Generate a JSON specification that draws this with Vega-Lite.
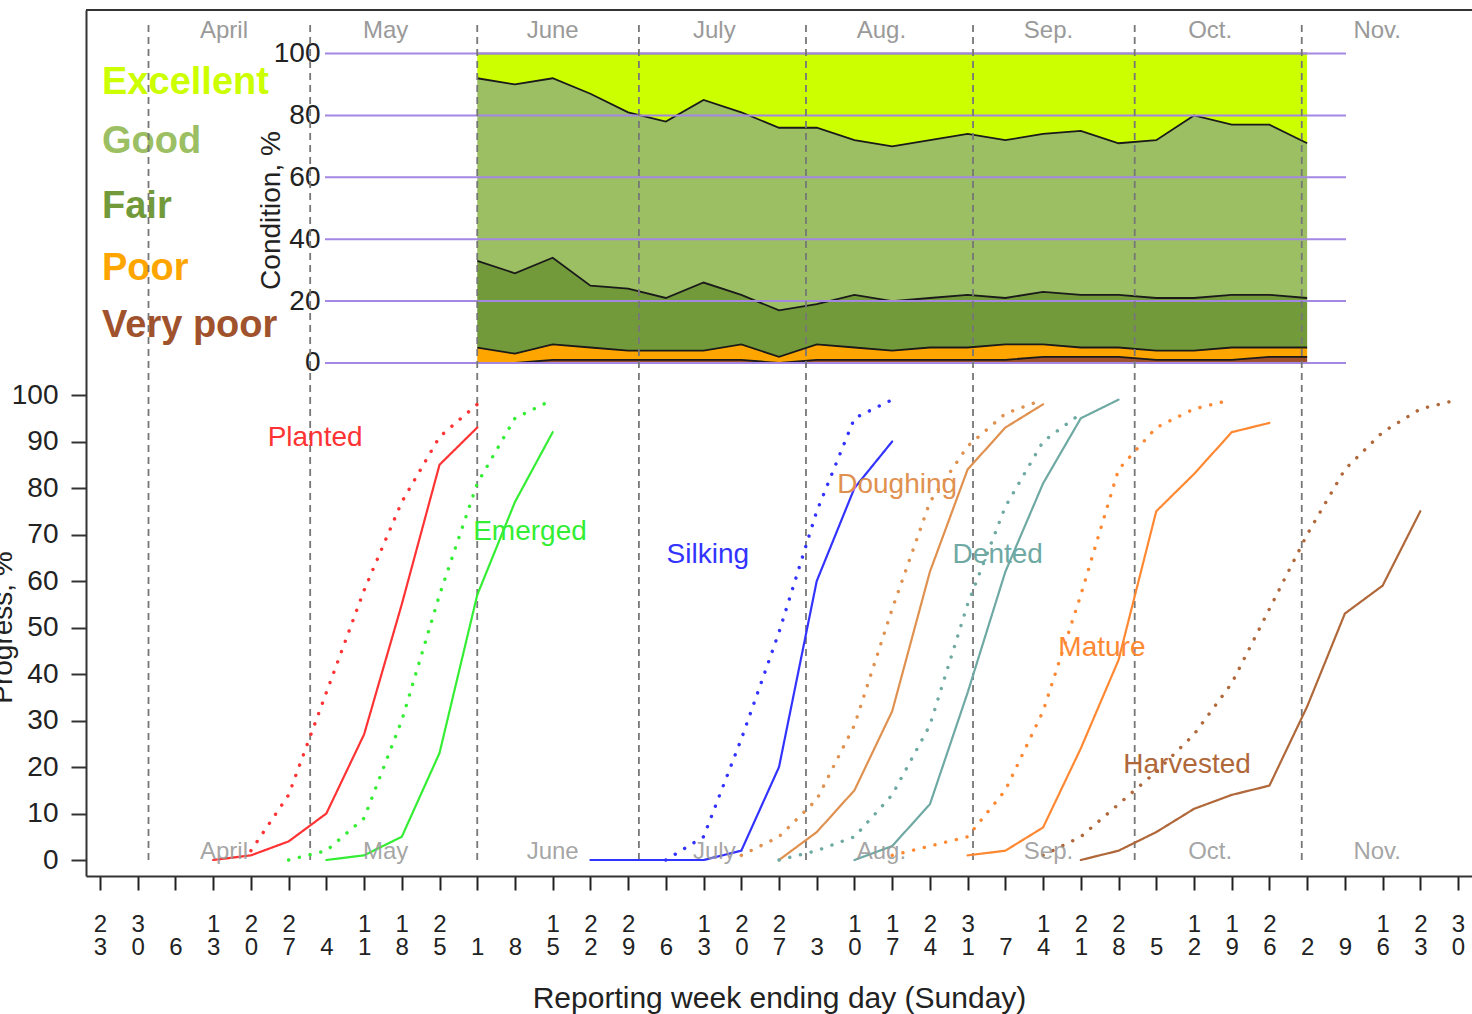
{
  "$schema": "https://vega.github.io/schema/vega-lite/v6.json",
  "width": 1386,
  "height": 866,
  "autosize": {"type": "none"},
  "padding": {"left": 86, "top": 10, "right": 0, "bottom": 138},
  "background": "white",
  "config": {
    "view": {"stroke": null},
    "font": "Liberation Sans",
    "axis": {"labelFont": "Liberation Sans", "titleFont": "Liberation Sans", "grid": false},
    "text": {"font": "Liberation Sans"}
  },
  "datasets": {
    "cond": [
      {"d": "2014-06-01", "VP": 0, "P": 5, "F": 28, "G": 59, "E": 8},
      {"d": "2014-06-08", "VP": 0, "P": 3, "F": 26, "G": 61, "E": 10},
      {"d": "2014-06-15", "VP": 1, "P": 5, "F": 28, "G": 58, "E": 8},
      {"d": "2014-06-22", "VP": 1, "P": 4, "F": 20, "G": 62, "E": 13},
      {"d": "2014-06-29", "VP": 1, "P": 3, "F": 20, "G": 57, "E": 19},
      {"d": "2014-07-06", "VP": 1, "P": 3, "F": 17, "G": 57, "E": 22},
      {"d": "2014-07-13", "VP": 1, "P": 3, "F": 22, "G": 59, "E": 15},
      {"d": "2014-07-20", "VP": 1, "P": 5, "F": 16, "G": 59, "E": 19},
      {"d": "2014-07-27", "VP": 0, "P": 2, "F": 15, "G": 59, "E": 24},
      {"d": "2014-08-03", "VP": 1, "P": 5, "F": 13, "G": 57, "E": 24},
      {"d": "2014-08-10", "VP": 1, "P": 4, "F": 17, "G": 50, "E": 28},
      {"d": "2014-08-17", "VP": 1, "P": 3, "F": 16, "G": 50, "E": 30},
      {"d": "2014-08-24", "VP": 1, "P": 4, "F": 16, "G": 51, "E": 28},
      {"d": "2014-08-31", "VP": 1, "P": 4, "F": 17, "G": 52, "E": 26},
      {"d": "2014-09-07", "VP": 1, "P": 5, "F": 15, "G": 51, "E": 28},
      {"d": "2014-09-14", "VP": 2, "P": 4, "F": 17, "G": 51, "E": 26},
      {"d": "2014-09-21", "VP": 2, "P": 3, "F": 17, "G": 53, "E": 25},
      {"d": "2014-09-28", "VP": 2, "P": 3, "F": 17, "G": 49, "E": 29},
      {"d": "2014-10-05", "VP": 1, "P": 3, "F": 17, "G": 51, "E": 28},
      {"d": "2014-10-12", "VP": 1, "P": 3, "F": 17, "G": 59, "E": 20},
      {"d": "2014-10-19", "VP": 1, "P": 4, "F": 17, "G": 55, "E": 23},
      {"d": "2014-10-26", "VP": 2, "P": 3, "F": 17, "G": 55, "E": 23},
      {"d": "2014-11-02", "VP": 2, "P": 3, "F": 16, "G": 50, "E": 29}
    ],
    "grid": [
      {"d": "2014-05-03T18:00:00Z", "d2": "2014-11-09T05:00:00Z", "v": 0},
      {"d": "2014-05-03T18:00:00Z", "d2": "2014-11-09T05:00:00Z", "v": 20},
      {"d": "2014-05-03T18:00:00Z", "d2": "2014-11-09T05:00:00Z", "v": 40},
      {"d": "2014-05-03T18:00:00Z", "d2": "2014-11-09T05:00:00Z", "v": 60},
      {"d": "2014-05-03T18:00:00Z", "d2": "2014-11-09T05:00:00Z", "v": 80},
      {"d": "2014-05-03T18:00:00Z", "d2": "2014-11-09T05:00:00Z", "v": 100}
    ],
    "leg": [
      {"d": "2014-03-23T09:00:00Z", "key": "E", "label": "Excellent", "v": 86.9},
      {"d": "2014-03-23T09:00:00Z", "key": "G", "label": "Good", "v": 67.9},
      {"d": "2014-03-23T09:00:00Z", "key": "F", "label": "Fair", "v": 46.8},
      {"d": "2014-03-23T09:00:00Z", "key": "P", "label": "Poor", "v": 26.8},
      {"d": "2014-03-23T09:00:00Z", "key": "VP", "label": "Very poor", "v": 8.4}
    ],
    "months": [
      {"d": "2014-04-01"}, {"d": "2014-05-01"}, {"d": "2014-06-01"}, {"d": "2014-07-01"},
      {"d": "2014-08-01"}, {"d": "2014-09-01"}, {"d": "2014-10-01"}, {"d": "2014-11-01"}
    ],
    "mlab": [
      {"d": "2014-04-15", "m": "April"}, {"d": "2014-05-15", "m": "May"}, {"d": "2014-06-15", "m": "June"},
      {"d": "2014-07-15", "m": "July"}, {"d": "2014-08-15", "m": "Aug."}, {"d": "2014-09-15", "m": "Sep."},
      {"d": "2014-10-15", "m": "Oct."}, {"d": "2014-11-15", "m": "Nov."}
    ],
    "frame": [{"d": "2014-03-20T09:38:00Z", "d2": "2014-12-02T14:10:00Z"}],
    "plab": [
      {"d": "2014-05-01T22:00:00Z", "s": "Planted", "v": 90.8},
      {"d": "2014-06-10T19:00:00Z", "s": "Emerged", "v": 70.5},
      {"d": "2014-07-13T19:00:00Z", "s": "Silking", "v": 65.6},
      {"d": "2014-08-17T22:00:00Z", "s": "Doughing", "v": 80.6},
      {"d": "2014-09-05T14:00:00Z", "s": "Dented", "v": 65.6},
      {"d": "2014-09-24T22:00:00Z", "s": "Mature", "v": 45.6},
      {"d": "2014-10-10T17:00:00Z", "s": "Harvested", "v": 20.4}
    ],
    "prog": [
      {"d": "2014-04-13", "s": "Planted", "t": "cur", "v": 0},
      {"d": "2014-04-20", "s": "Planted", "t": "cur", "v": 1},
      {"d": "2014-04-27", "s": "Planted", "t": "cur", "v": 4},
      {"d": "2014-05-04", "s": "Planted", "t": "cur", "v": 10},
      {"d": "2014-05-11", "s": "Planted", "t": "cur", "v": 27},
      {"d": "2014-05-18", "s": "Planted", "t": "cur", "v": 55},
      {"d": "2014-05-25", "s": "Planted", "t": "cur", "v": 85},
      {"d": "2014-06-01", "s": "Planted", "t": "cur", "v": 93},
      {"d": "2014-04-20", "s": "Planted", "t": "avg", "v": 2},
      {"d": "2014-04-27", "s": "Planted", "t": "avg", "v": 14},
      {"d": "2014-05-04", "s": "Planted", "t": "avg", "v": 36},
      {"d": "2014-05-11", "s": "Planted", "t": "avg", "v": 58},
      {"d": "2014-05-18", "s": "Planted", "t": "avg", "v": 77},
      {"d": "2014-05-25", "s": "Planted", "t": "avg", "v": 91},
      {"d": "2014-06-01", "s": "Planted", "t": "avg", "v": 98},
      {"d": "2014-05-04", "s": "Emerged", "t": "cur", "v": 0},
      {"d": "2014-05-11", "s": "Emerged", "t": "cur", "v": 1},
      {"d": "2014-05-18", "s": "Emerged", "t": "cur", "v": 5},
      {"d": "2014-05-25", "s": "Emerged", "t": "cur", "v": 23},
      {"d": "2014-06-01", "s": "Emerged", "t": "cur", "v": 57},
      {"d": "2014-06-08", "s": "Emerged", "t": "cur", "v": 77},
      {"d": "2014-06-15", "s": "Emerged", "t": "cur", "v": 92},
      {"d": "2014-04-27", "s": "Emerged", "t": "avg", "v": 0},
      {"d": "2014-05-04", "s": "Emerged", "t": "avg", "v": 2},
      {"d": "2014-05-11", "s": "Emerged", "t": "avg", "v": 9},
      {"d": "2014-05-18", "s": "Emerged", "t": "avg", "v": 30},
      {"d": "2014-05-25", "s": "Emerged", "t": "avg", "v": 57},
      {"d": "2014-06-01", "s": "Emerged", "t": "avg", "v": 81},
      {"d": "2014-06-08", "s": "Emerged", "t": "avg", "v": 95},
      {"d": "2014-06-15", "s": "Emerged", "t": "avg", "v": 99},
      {"d": "2014-06-22", "s": "Silking", "t": "cur", "v": 0},
      {"d": "2014-06-29", "s": "Silking", "t": "cur", "v": 0},
      {"d": "2014-07-06", "s": "Silking", "t": "cur", "v": 0},
      {"d": "2014-07-13", "s": "Silking", "t": "cur", "v": 0},
      {"d": "2014-07-20", "s": "Silking", "t": "cur", "v": 2},
      {"d": "2014-07-27", "s": "Silking", "t": "cur", "v": 20},
      {"d": "2014-08-03", "s": "Silking", "t": "cur", "v": 60},
      {"d": "2014-08-10", "s": "Silking", "t": "cur", "v": 80},
      {"d": "2014-08-17", "s": "Silking", "t": "cur", "v": 90},
      {"d": "2014-07-06", "s": "Silking", "t": "avg", "v": 0},
      {"d": "2014-07-13", "s": "Silking", "t": "avg", "v": 5},
      {"d": "2014-07-20", "s": "Silking", "t": "avg", "v": 26},
      {"d": "2014-07-27", "s": "Silking", "t": "avg", "v": 49},
      {"d": "2014-08-03", "s": "Silking", "t": "avg", "v": 75},
      {"d": "2014-08-10", "s": "Silking", "t": "avg", "v": 95},
      {"d": "2014-08-17", "s": "Silking", "t": "avg", "v": 99},
      {"d": "2014-07-27", "s": "Doughing", "t": "cur", "v": 0},
      {"d": "2014-08-03", "s": "Doughing", "t": "cur", "v": 6},
      {"d": "2014-08-10", "s": "Doughing", "t": "cur", "v": 15},
      {"d": "2014-08-17", "s": "Doughing", "t": "cur", "v": 32},
      {"d": "2014-08-24", "s": "Doughing", "t": "cur", "v": 62},
      {"d": "2014-08-31", "s": "Doughing", "t": "cur", "v": 84},
      {"d": "2014-09-07", "s": "Doughing", "t": "cur", "v": 93},
      {"d": "2014-09-14", "s": "Doughing", "t": "cur", "v": 98},
      {"d": "2014-07-20", "s": "Doughing", "t": "avg", "v": 1},
      {"d": "2014-07-27", "s": "Doughing", "t": "avg", "v": 5},
      {"d": "2014-08-03", "s": "Doughing", "t": "avg", "v": 13},
      {"d": "2014-08-10", "s": "Doughing", "t": "avg", "v": 29},
      {"d": "2014-08-17", "s": "Doughing", "t": "avg", "v": 54},
      {"d": "2014-08-24", "s": "Doughing", "t": "avg", "v": 77},
      {"d": "2014-08-31", "s": "Doughing", "t": "avg", "v": 89},
      {"d": "2014-09-07", "s": "Doughing", "t": "avg", "v": 96},
      {"d": "2014-09-14", "s": "Doughing", "t": "avg", "v": 99},
      {"d": "2014-08-10", "s": "Dented", "t": "cur", "v": 0},
      {"d": "2014-08-17", "s": "Dented", "t": "cur", "v": 3},
      {"d": "2014-08-24", "s": "Dented", "t": "cur", "v": 12},
      {"d": "2014-08-31", "s": "Dented", "t": "cur", "v": 36},
      {"d": "2014-09-07", "s": "Dented", "t": "cur", "v": 62},
      {"d": "2014-09-14", "s": "Dented", "t": "cur", "v": 81},
      {"d": "2014-09-21", "s": "Dented", "t": "cur", "v": 95},
      {"d": "2014-09-28", "s": "Dented", "t": "cur", "v": 99},
      {"d": "2014-07-27", "s": "Dented", "t": "avg", "v": 0},
      {"d": "2014-08-03", "s": "Dented", "t": "avg", "v": 2},
      {"d": "2014-08-10", "s": "Dented", "t": "avg", "v": 5},
      {"d": "2014-08-17", "s": "Dented", "t": "avg", "v": 14},
      {"d": "2014-08-24", "s": "Dented", "t": "avg", "v": 29},
      {"d": "2014-08-31", "s": "Dented", "t": "avg", "v": 55},
      {"d": "2014-09-07", "s": "Dented", "t": "avg", "v": 76},
      {"d": "2014-09-14", "s": "Dented", "t": "avg", "v": 90},
      {"d": "2014-09-21", "s": "Dented", "t": "avg", "v": 96},
      {"d": "2014-08-31", "s": "Mature", "t": "cur", "v": 1},
      {"d": "2014-09-07", "s": "Mature", "t": "cur", "v": 2},
      {"d": "2014-09-14", "s": "Mature", "t": "cur", "v": 7},
      {"d": "2014-09-21", "s": "Mature", "t": "cur", "v": 24},
      {"d": "2014-09-28", "s": "Mature", "t": "cur", "v": 43},
      {"d": "2014-10-05", "s": "Mature", "t": "cur", "v": 75},
      {"d": "2014-10-12", "s": "Mature", "t": "cur", "v": 83},
      {"d": "2014-10-19", "s": "Mature", "t": "cur", "v": 92},
      {"d": "2014-10-26", "s": "Mature", "t": "cur", "v": 94},
      {"d": "2014-08-17", "s": "Mature", "t": "avg", "v": 1},
      {"d": "2014-08-24", "s": "Mature", "t": "avg", "v": 3},
      {"d": "2014-08-31", "s": "Mature", "t": "avg", "v": 5},
      {"d": "2014-09-07", "s": "Mature", "t": "avg", "v": 15},
      {"d": "2014-09-14", "s": "Mature", "t": "avg", "v": 32},
      {"d": "2014-09-21", "s": "Mature", "t": "avg", "v": 57},
      {"d": "2014-09-28", "s": "Mature", "t": "avg", "v": 84},
      {"d": "2014-10-05", "s": "Mature", "t": "avg", "v": 93},
      {"d": "2014-10-12", "s": "Mature", "t": "avg", "v": 97},
      {"d": "2014-10-19", "s": "Mature", "t": "avg", "v": 99},
      {"d": "2014-09-21", "s": "Harvested", "t": "cur", "v": 0},
      {"d": "2014-09-28", "s": "Harvested", "t": "cur", "v": 2},
      {"d": "2014-10-05", "s": "Harvested", "t": "cur", "v": 6},
      {"d": "2014-10-12", "s": "Harvested", "t": "cur", "v": 11},
      {"d": "2014-10-19", "s": "Harvested", "t": "cur", "v": 14},
      {"d": "2014-10-26", "s": "Harvested", "t": "cur", "v": 16},
      {"d": "2014-11-02", "s": "Harvested", "t": "cur", "v": 33},
      {"d": "2014-11-09", "s": "Harvested", "t": "cur", "v": 53},
      {"d": "2014-11-16", "s": "Harvested", "t": "cur", "v": 59},
      {"d": "2014-11-23", "s": "Harvested", "t": "cur", "v": 75},
      {"d": "2014-09-14", "s": "Harvested", "t": "avg", "v": 1},
      {"d": "2014-09-21", "s": "Harvested", "t": "avg", "v": 5},
      {"d": "2014-09-28", "s": "Harvested", "t": "avg", "v": 12},
      {"d": "2014-10-05", "s": "Harvested", "t": "avg", "v": 19},
      {"d": "2014-10-12", "s": "Harvested", "t": "avg", "v": 27},
      {"d": "2014-10-19", "s": "Harvested", "t": "avg", "v": 38},
      {"d": "2014-10-26", "s": "Harvested", "t": "avg", "v": 54},
      {"d": "2014-11-02", "s": "Harvested", "t": "avg", "v": 70},
      {"d": "2014-11-09", "s": "Harvested", "t": "avg", "v": 84},
      {"d": "2014-11-16", "s": "Harvested", "t": "avg", "v": 92},
      {"d": "2014-11-23", "s": "Harvested", "t": "avg", "v": 97},
      {"d": "2014-11-30", "s": "Harvested", "t": "avg", "v": 99}
    ]
  },
  "encoding": {
    "x": {
      "field": "d",
      "type": "temporal",
      "scale": {
        "type": "utc",
        "domain": [
          {"year": 2014, "month": 3, "date": 20, "hours": 9, "minutes": 38, "utc": true},
          {"year": 2014, "month": 12, "date": 2, "hours": 14, "minutes": 10, "utc": true}
        ]
      },
      "axis": {
        "orient": "bottom",
        "values": [
          {"year": 2014, "month": 3, "date": 23, "utc": true},
          {"year": 2014, "month": 3, "date": 30, "utc": true},
          {"year": 2014, "month": 4, "date": 6, "utc": true},
          {"year": 2014, "month": 4, "date": 13, "utc": true},
          {"year": 2014, "month": 4, "date": 20, "utc": true},
          {"year": 2014, "month": 4, "date": 27, "utc": true},
          {"year": 2014, "month": 5, "date": 4, "utc": true},
          {"year": 2014, "month": 5, "date": 11, "utc": true},
          {"year": 2014, "month": 5, "date": 18, "utc": true},
          {"year": 2014, "month": 5, "date": 25, "utc": true},
          {"year": 2014, "month": 6, "date": 1, "utc": true},
          {"year": 2014, "month": 6, "date": 8, "utc": true},
          {"year": 2014, "month": 6, "date": 15, "utc": true},
          {"year": 2014, "month": 6, "date": 22, "utc": true},
          {"year": 2014, "month": 6, "date": 29, "utc": true},
          {"year": 2014, "month": 7, "date": 6, "utc": true},
          {"year": 2014, "month": 7, "date": 13, "utc": true},
          {"year": 2014, "month": 7, "date": 20, "utc": true},
          {"year": 2014, "month": 7, "date": 27, "utc": true},
          {"year": 2014, "month": 8, "date": 3, "utc": true},
          {"year": 2014, "month": 8, "date": 10, "utc": true},
          {"year": 2014, "month": 8, "date": 17, "utc": true},
          {"year": 2014, "month": 8, "date": 24, "utc": true},
          {"year": 2014, "month": 8, "date": 31, "utc": true},
          {"year": 2014, "month": 9, "date": 7, "utc": true},
          {"year": 2014, "month": 9, "date": 14, "utc": true},
          {"year": 2014, "month": 9, "date": 21, "utc": true},
          {"year": 2014, "month": 9, "date": 28, "utc": true},
          {"year": 2014, "month": 10, "date": 5, "utc": true},
          {"year": 2014, "month": 10, "date": 12, "utc": true},
          {"year": 2014, "month": 10, "date": 19, "utc": true},
          {"year": 2014, "month": 10, "date": 26, "utc": true},
          {"year": 2014, "month": 11, "date": 2, "utc": true},
          {"year": 2014, "month": 11, "date": 9, "utc": true},
          {"year": 2014, "month": 11, "date": 16, "utc": true},
          {"year": 2014, "month": 11, "date": 23, "utc": true},
          {"year": 2014, "month": 11, "date": 30, "utc": true}
        ],
        "labelExpr": "split(utcFormat(datum.value, '%e'), '')",
        "labelFontSize": 24,
        "labelLineHeight": 23,
        "labelBaseline": "top",
        "labelPadding": 22,
        "labelColor": "#222222",
        "labelOverlap": false,
        "labelFlush": false,
        "labelBound": false,
        "tickSize": 14,
        "tickWidth": 2,
        "tickColor": "#222222",
        "domainColor": "#333333",
        "domainWidth": 2,
        "title": "Reporting week ending day (Sunday)",
        "titleFontSize": 30,
        "titleFontWeight": "normal",
        "titleColor": "#222222",
        "titleY": 131,
        "titleBaseline": "alphabetic"
      }
    }
  },
  "layer": [
    {
      "data": {"name": "cond"},
      "transform": [
        {"fold": ["VP", "P", "F", "G", "E"], "as": ["key", "val"]},
        {"calculate": "indexof(['VP','P','F','G','E'], datum.key)", "as": "o"},
        {"stack": "val", "groupby": ["d"], "sort": [{"field": "o", "order": "ascending"}], "as": ["v0", "v"]}
      ],
      "mark": {"type": "area", "opacity": 1},
      "encoding": {
        "y": {
          "field": "v", "type": "quantitative", "stack": null,
          "scale": {"domain": [-165.75, 114.05], "nice": false, "zero": false},
          "axis": {
            "orient": "left",
            "values": [0, 20, 40, 60, 80, 100],
            "offset": -236,
            "domain": false,
            "ticks": false,
            "tickSize": 0,
            "labelPadding": 2,
            "labelFontSize": 28,
            "labelColor": "#222222",
            "title": "Condition, %",
            "titleFontSize": 28,
            "titleFontWeight": "normal",
            "titleColor": "#222222",
            "titleX": -43,
            "titleY": 200,
            "titleAngle": 270,
            "titleAlign": "center",
            "titleBaseline": "alphabetic"
          }
        },
        "y2": {"field": "v0"},
        "color": {
          "field": "key", "type": "nominal",
          "scale": {"domain": ["VP", "P", "F", "G", "E"], "range": ["#a0522d", "#ffa500", "#739a3a", "#9bbf62", "#ccff00"]},
          "legend": null
        }
      }
    },
    {
      "data": {"name": "cond"},
      "transform": [
        {"fold": ["VP", "P", "F", "G", "E"], "as": ["key", "val"]},
        {"calculate": "indexof(['VP','P','F','G','E'], datum.key)", "as": "o"},
        {"stack": "val", "groupby": ["d"], "sort": [{"field": "o", "order": "ascending"}], "as": ["v0", "v"]}
      ],
      "mark": {"type": "line", "strokeWidth": 1.8},
      "encoding": {
        "y": {
          "field": "v", "type": "quantitative", "stack": null,
          "scale": {"domain": [-165.75, 114.05], "nice": false, "zero": false},
          "axis": null
        },
        "detail": {"field": "key"},
        "stroke": {"condition": {"test": "datum.key === 'E'", "value": "#8c8c8c"}, "value": "#1a1a1a"}
      }
    },
    {
      "data": {"name": "grid"},
      "mark": {"type": "rule", "stroke": "#a487e3", "strokeWidth": 2},
      "encoding": {
        "x2": {"field": "d2"},
        "y": {
          "field": "v", "type": "quantitative",
          "scale": {"domain": [-165.75, 114.05], "nice": false, "zero": false},
          "axis": null
        }
      }
    },
    {
      "data": {"name": "leg"},
      "mark": {"type": "text", "align": "left", "baseline": "alphabetic", "fontSize": 38, "fontWeight": "bold", "font": "Liberation Sans"},
      "encoding": {
        "y": {
          "field": "v", "type": "quantitative",
          "scale": {"domain": [-165.75, 114.05], "nice": false, "zero": false},
          "axis": null
        },
        "text": {"field": "label"},
        "color": {
          "field": "key", "type": "nominal",
          "scale": {"domain": ["VP", "P", "F", "G", "E"], "range": ["#a0522d", "#ffa500", "#739a3a", "#9bbf62", "#ccff00"]},
          "legend": null
        }
      }
    },
    {
      "data": {"name": "months"},
      "mark": {"type": "rule", "stroke": "#777777", "strokeWidth": 1.8, "strokeDash": [7, 5]},
      "encoding": {
        "y": {"datum": 0, "type": "quantitative", "scale": {"domain": [-3.44, 182.8], "nice": false, "zero": false}, "axis": null},
        "y2": {"datum": 180.2}
      }
    },
    {
      "data": {"name": "prog"},
      "mark": {"type": "line", "strokeCap": "round"},
      "encoding": {
        "y": {
          "field": "v", "type": "quantitative",
          "scale": {"domain": [-3.44, 182.8], "nice": false, "zero": false},
          "axis": {
            "orient": "left",
            "values": [0, 10, 20, 30, 40, 50, 60, 70, 80, 90, 100],
            "labelFontSize": 28,
            "labelColor": "#222222",
            "labelPadding": 13,
            "tickSize": 15,
            "tickWidth": 2,
            "tickColor": "#333333",
            "domainColor": "#333333",
            "domainWidth": 2,
            "title": "Progress, %",
            "titleFontSize": 28,
            "titleFontWeight": "normal",
            "titleColor": "#222222",
            "titleX": -75,
            "titleY": 617,
            "titleAngle": 270,
            "titleAlign": "center",
            "titleBaseline": "alphabetic"
          }
        },
        "color": {
          "field": "s", "type": "nominal",
          "scale": {
            "domain": ["Planted", "Emerged", "Silking", "Doughing", "Dented", "Mature", "Harvested"],
            "range": ["#ff3333", "#33ee33", "#3333ff", "#e0914f", "#6fa9a3", "#ff8833", "#b0683a"]
          },
          "legend": null
        },
        "strokeDash": {
          "field": "t", "type": "nominal",
          "scale": {"domain": ["cur", "avg"], "range": [[1, 0], [0.1, 10.9]]},
          "legend": null
        },
        "strokeWidth": {
          "field": "t", "type": "nominal",
          "scale": {"domain": ["cur", "avg"], "range": [2.2, 3.4]},
          "legend": null
        }
      }
    },
    {
      "data": {"name": "plab"},
      "mark": {"type": "text", "align": "center", "baseline": "middle", "fontSize": 28, "font": "Liberation Sans"},
      "encoding": {
        "y": {"field": "v", "type": "quantitative", "scale": {"domain": [-3.44, 182.8], "nice": false, "zero": false}, "axis": null},
        "text": {"field": "s"},
        "color": {
          "field": "s", "type": "nominal",
          "scale": {
            "domain": ["Planted", "Emerged", "Silking", "Doughing", "Dented", "Mature", "Harvested"],
            "range": ["#ff3333", "#33ee33", "#3333ff", "#e0914f", "#6fa9a3", "#ff8833", "#b0683a"]
          },
          "legend": null
        }
      }
    },
    {
      "data": {"name": "mlab"},
      "mark": {"type": "text", "align": "center", "baseline": "middle", "fontSize": 24, "fill": "#9a9a9a", "font": "Liberation Sans"},
      "encoding": {
        "y": {"datum": 178.2, "type": "quantitative", "scale": {"domain": [-3.44, 182.8], "nice": false, "zero": false}, "axis": null},
        "text": {"field": "m"}
      }
    },
    {
      "data": {"name": "mlab"},
      "mark": {"type": "text", "align": "center", "baseline": "middle", "fontSize": 24, "fill": "#9a9a9a", "fillOpacity": 0.9, "font": "Liberation Sans"},
      "encoding": {
        "y": {"datum": 1.7, "type": "quantitative", "scale": {"domain": [-3.44, 182.8], "nice": false, "zero": false}, "axis": null},
        "text": {"field": "m"}
      }
    },
    {
      "data": {"name": "frame"},
      "mark": {"type": "rule", "stroke": "#333333", "strokeWidth": 2},
      "encoding": {
        "x2": {"field": "d2"},
        "y": {"datum": 182.8, "type": "quantitative", "scale": {"domain": [-3.44, 182.8], "nice": false, "zero": false}, "axis": null}
      }
    }
  ],
  "resolve": {"scale": {"y": "independent", "color": "independent"}, "axis": {"y": "independent"}}
}
